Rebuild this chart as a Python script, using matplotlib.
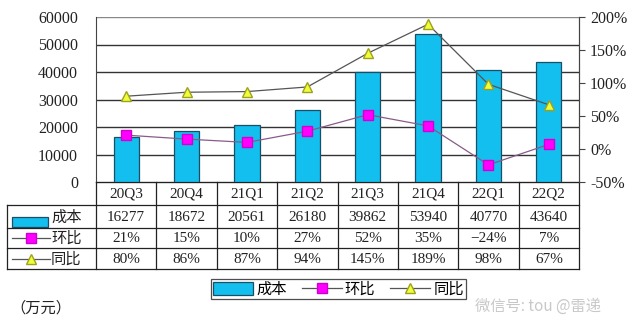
import matplotlib
matplotlib.use("Agg")
import matplotlib.pyplot as plt
from matplotlib.transforms import blended_transform_factory
from matplotlib.lines import Line2D
from matplotlib.patches import Rectangle

categories = ["20Q3", "20Q4", "21Q1", "21Q2", "21Q3", "21Q4", "22Q1", "22Q2"]
cost = [16277, 18672, 20561, 26180, 39862, 53940, 40770, 43640]
qoq = [21, 15, 10, 27, 52, 35, -24, 7]
yoy = [80, 86, 87, 94, 145, 189, 98, 67]
series_names = ["成本", "环比", "同比"]
left_ticks = [0, 10000, 20000, 30000, 40000, 50000, 60000]
right_ticks = [-50, 0, 50, 100, 150, 200]

SERIF = ["Liberation Serif", "Noto Sans CJK SC"]
CJK = ["Noto Sans CJK SC", "DejaVu Sans"]
BAR_C = "#12BFEF"
BAR_E = "#1B4F63"
SQ_C = "#FF00FF"
TRI_C = "#EEFF3A"
FS = 11.5
FST = 11

fig = plt.figure(figsize=(6.4, 3.32), dpi=100)
W, H = 640, 332
L, R, T, B = 96, 579, 17, 182
ax = fig.add_axes([L / W, 1 - B / H, (R - L) / W, (B - T) / H])
n = len(categories)
x = list(range(n))
ax.set_xlim(-0.5, n - 0.5)
ax.set_ylim(0, 60000)
ax.bar(x, cost, width=0.42, color=BAR_C, edgecolor=BAR_E, linewidth=0.9, zorder=3)
ax.set_yticks(left_ticks)
ax.set_yticklabels([str(v) for v in left_ticks], fontfamily=SERIF, fontsize=FS, color="#222222")
ax.tick_params(axis="y", length=0, pad=13)
ax.set_xticks([])
for v in left_ticks[1:]:
    ax.axhline(v, color="#333333" if v < 60000 else "#888888", lw=1.0, zorder=1)
ax.spines["top"].set_visible(False)
ax.spines["left"].set_color("#444444")
ax.spines["right"].set_color("#444444")
ax.spines["bottom"].set_color("#222222")

ax2 = ax.twinx()
ax2.set_ylim(-50, 200)
ax2.set_yticks(right_ticks)
ax2.set_yticklabels([f"{v}%" for v in right_ticks], fontfamily=SERIF, fontsize=FS, color="#222222")
ax2.tick_params(axis="y", length=4, color="#444444", pad=4)
for s in ["top", "left", "bottom"]:
    ax2.spines[s].set_visible(False)
ax2.spines["right"].set_color("#444444")
ax2.plot(x, qoq, color="#8A5A8A", lw=0.9, marker="s", markersize=7,
         markerfacecolor=SQ_C, markeredgecolor="#D000D0", zorder=5)
ax2.plot(x, yoy, color="#555555", lw=0.9, marker="^", markersize=7.5,
         markerfacecolor=TRI_C, markeredgecolor="#A0A020", zorder=5)

# ---- data table below axes ----
tr = blended_transform_factory(ax.transData, ax.transAxes)
ph = B - T
def yf(py):
    return (B - py) / ph
def xd(px):
    return -0.5 + (px - L) / ((R - L) / n)

rows_y = [182, 205, 228, 248, 269]
lc = "#222222"
lw = 0.9
for i, py in enumerate(rows_y):
    x0 = -0.5 if i == 0 else xd(7)
    ax.add_line(Line2D([x0, n - 0.5], [yf(py), yf(py)], transform=tr, color=lc, lw=lw, clip_on=False))
for k in range(n + 1):
    ax.add_line(Line2D([k - 0.5, k - 0.5], [yf(182), yf(269)], transform=tr, color=lc, lw=lw, clip_on=False))
ax.add_line(Line2D([xd(7), xd(7)], [yf(205), yf(269)], transform=tr, color=lc, lw=lw, clip_on=False))

row_vals = [[str(v) for v in cost], [f"{v}%" for v in qoq], [f"{v}%" for v in yoy]]
for k, c in enumerate(categories):
    ax.text(k, yf(194), c, transform=tr, ha="center", va="center", fontfamily=SERIF, fontsize=FST, color="#222222")
for r, vals in enumerate(row_vals):
    yc = yf((rows_y[r + 1] + rows_y[r + 2]) / 2 + 0.5)
    for k, v in enumerate(vals):
        ax.text(k, yc, v.replace("-", "\u2212"), transform=tr, ha="center", va="center",
                fontfamily=SERIF, fontsize=FST, color="#222222")
    ax.text(xd(51), yc, series_names[r], transform=tr, ha="left", va="center",
            fontfamily=CJK, fontsize=FST, color="#222222")

ax.add_patch(Rectangle((xd(12), yf(227)), xd(48) - xd(12), yf(217) - yf(227), transform=tr,
                       facecolor=BAR_C, edgecolor=BAR_E, lw=0.9, clip_on=False))
yc2 = yf(238)
ax.add_line(Line2D([xd(12), xd(50)], [yc2, yc2], transform=tr, color="#555555", lw=0.9, clip_on=False))
ax.add_line(Line2D([xd(31)], [yc2], transform=tr, marker="s", markersize=7, markerfacecolor=SQ_C,
                   markeredgecolor="#D000D0", clip_on=False, linestyle="none"))
yc3 = yf(259)
ax.add_line(Line2D([xd(12), xd(50)], [yc3, yc3], transform=tr, color="#555555", lw=0.9, clip_on=False))
ax.add_line(Line2D([xd(31)], [yc3], transform=tr, marker="^", markersize=7.5, markerfacecolor=TRI_C,
                   markeredgecolor="#A0A020", clip_on=False, linestyle="none"))

handles = [
    Rectangle((0, 0), 1, 1, facecolor=BAR_C, edgecolor=BAR_E, lw=0.9),
    Line2D([], [], color="#555555", lw=0.9, marker="s", markersize=7, markerfacecolor=SQ_C, markeredgecolor="#D000D0"),
    Line2D([], [], color="#555555", lw=0.9, marker="^", markersize=7.5, markerfacecolor=TRI_C, markeredgecolor="#A0A020"),
]
leg = fig.legend(handles, series_names, loc="center", bbox_to_anchor=(338.5 / W, 1 - 289 / H), ncol=3,
                 prop={"family": CJK, "size": FST}, frameon=True, fancybox=False, edgecolor="#222222",
                 handlelength=2.6, handleheight=0.9, columnspacing=1.0, handletextpad=0.2,
                 borderpad=0.12, borderaxespad=0)
leg.get_frame().set_linewidth(0.9)

fig.text(10 / W, 1 - 308 / H, "（万元）", fontfamily=CJK, fontsize=FST, ha="left", va="center", color="#222222")
fig.text(475 / W, 1 - 306 / H, "微信号: tou @雷递", fontfamily=CJK, fontsize=FST, ha="left", va="center",
         color="#BBBBBB", alpha=0.8)

fig.savefig("out.png", dpi=100, facecolor="white")
